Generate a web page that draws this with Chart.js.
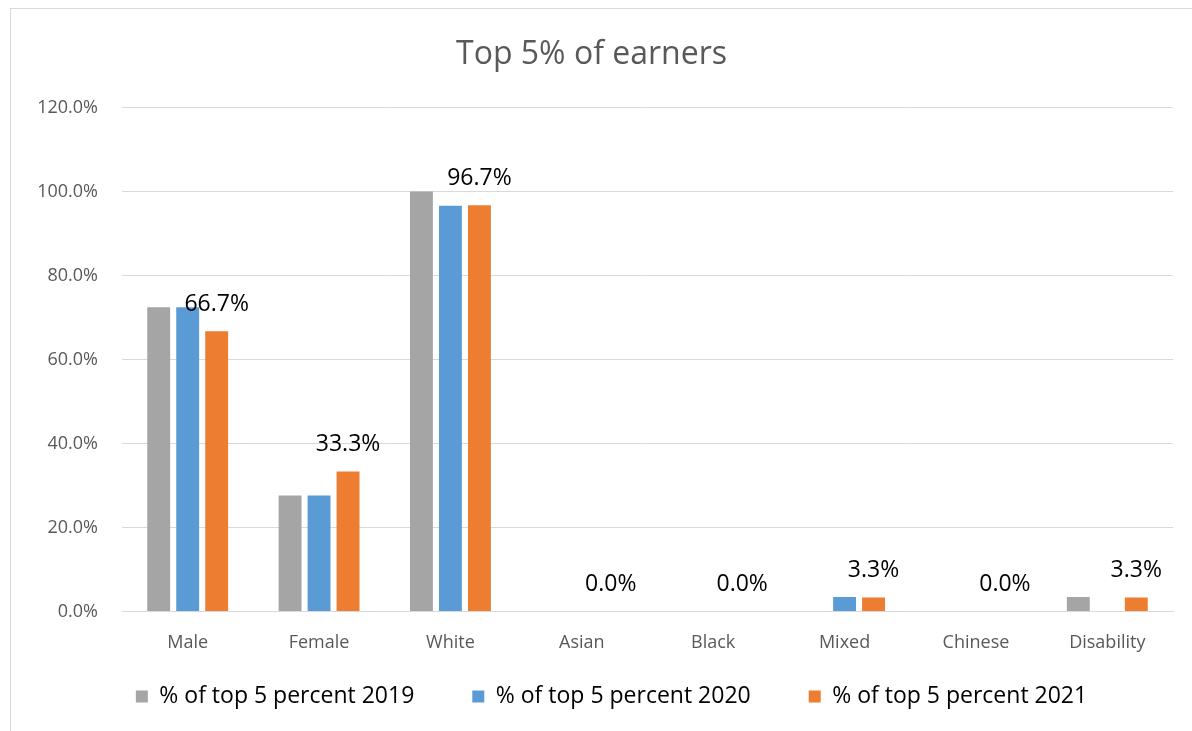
<!DOCTYPE html>
<html>
<head>
<meta charset="utf-8">
<script src="https://cdn.jsdelivr.net/npm/chart.js@4"></script>
<style>
    body { margin: 0; background: #fff; overflow: hidden; }
    #wrap { position: relative; width: 1192px; height: 731px; overflow: hidden; }
    #frame { position: absolute; left: 10px; top: 8px; width: 1200px; height: 740px; border: 1px solid #d9d9d9; box-sizing: border-box; }
    canvas { position: absolute; left: 0; top: 0; }
</style>
</head>
<body>
<div id="wrap">
    <div id="frame"></div>
    <canvas id="earnersChart" width="1192" height="731"></canvas>
</div>
<script>
const categories = ["Male", "Female", "White", "Asian", "Black", "Mixed", "Chinese", "Disability"];
const seriesNames = ["% of top 5 percent 2019", "% of top 5 percent 2020", "% of top 5 percent 2021"];
const values2019 = [72.4, 27.6, 100.0, 0, 0, 0, 0, 3.4];
const values2020 = [72.4, 27.6, 96.6, 0, 0, 3.4, 0, 0];
const values2021 = [66.7, 33.3, 96.7, 0, 0, 3.3, 0, 3.3];
const seriesColors = ["#a5a5a5", "#5b9bd5", "#ed7d31"];

const FONT = "'Open Sans', 'Liberation Sans', sans-serif";
const LEGEND_SHIFT_Y = 40;
const LEGEND_SHIFT_X = 20;

// Draw the value labels above the 2021 bars only
const labelPlugin = {
    id: "labels2021",
    afterDatasetsDraw(chart) {
        const ctx = chart.ctx;
        const meta = chart.getDatasetMeta(2);
        ctx.save();
        ctx.font = "23px " + FONT;
        ctx.fillStyle = "#000";
        ctx.textAlign = "center";
        ctx.textBaseline = "middle";
        meta.data.forEach((bar, i) => {
            ctx.fillText(values2021[i].toFixed(1) + "%", bar.x, bar.y - 27);
        });
        ctx.restore();
    }
};

// The wide legend padding also pads it vertically, so pull the legend up a bit
const legendShiftPlugin = {
    id: "legendShift",
    afterLayout(chart) {
        if (chart.legend) {
            chart.legend.top -= LEGEND_SHIFT_Y;
            chart.legend.bottom -= LEGEND_SHIFT_Y;
            chart.legend.left += LEGEND_SHIFT_X;
            chart.legend.right += LEGEND_SHIFT_X;
        }
    }
};

new Chart(document.getElementById("earnersChart"), {
    type: "bar",
    data: {
        labels: categories,
        datasets: [
            { label: seriesNames[0], data: values2019, backgroundColor: seriesColors[0] },
            { label: seriesNames[1], data: values2020, backgroundColor: seriesColors[1] },
            { label: seriesNames[2], data: values2021, backgroundColor: seriesColors[2] }
        ]
    },
    options: {
        responsive: false,
        animation: false,
        categoryPercentage: 0.662,
        barPercentage: 0.79,
        layout: { padding: { top: 26, right: 19, left: 10, bottom: -27 } },
        plugins: {
            title: {
                display: true,
                text: "Top 5% of earners",
                color: "#595959",
                font: { family: FONT, size: 32, weight: "normal" },
                padding: { top: 10, bottom: 33 }
            },
            legend: {
                position: "bottom",
                labels: {
                    boxWidth: 12,
                    boxHeight: 12,
                    padding: 58,
                    color: "#000",
                    font: { family: FONT, size: 23 }
                }
            },
            tooltip: { enabled: false }
        },
        scales: {
            x: {
                grid: { display: false },
                border: { color: "#d9d9d9" },
                ticks: { color: "#595959", font: { family: FONT, size: 18 }, padding: 13 }
            },
            y: {
                min: 0,
                max: 120,
                afterFit(scale) { scale.width = 112; },
                grid: { color: "#d9d9d9", drawTicks: false },
                border: { display: false },
                ticks: {
                    stepSize: 20,
                    padding: 24,
                    color: "#595959",
                    font: { family: FONT, size: 18 },
                    callback: v => v.toFixed(1) + "%"
                }
            }
        }
    },
    plugins: [labelPlugin, legendShiftPlugin]
});
</script>
</body>
</html>
